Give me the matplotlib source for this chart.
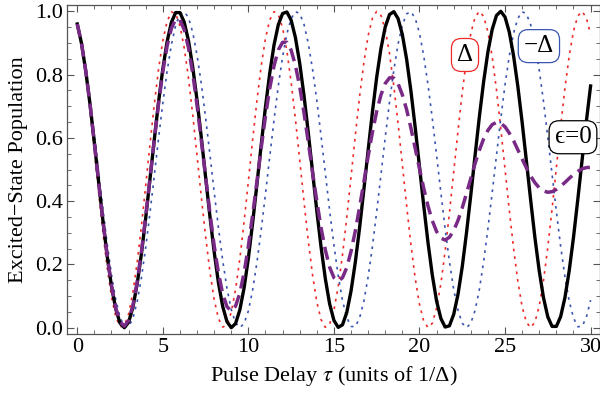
import matplotlib
matplotlib.use("Agg")
import matplotlib.pyplot as plt
import numpy as np
from matplotlib.ticker import MultipleLocator

plt.rcParams["font.family"] = ["Liberation Serif", "DejaVu Serif"]
plt.rcParams["mathtext.fontset"] = "stix"

# sample grid, 0 .. 30 in steps of 0.25 (one row below = one unit of tau)
tau = np.arange(121) * 0.25

# epsilon = 0
pop_zero = [0.960, 0.898, 0.810, 0.704,
            0.584, 0.460, 0.338, 0.226,
            0.131, 0.059, 0.014, 0.000,
            0.017, 0.064, 0.138, 0.234,
            0.347, 0.470, 0.594, 0.713,
            0.818, 0.904, 0.965, 0.996,
            0.996, 0.966, 0.907, 0.823,
            0.719, 0.601, 0.476, 0.353,
            0.240, 0.142, 0.067, 0.019,
            0.000, 0.013, 0.056, 0.126,
            0.220, 0.332, 0.453, 0.578,
            0.698, 0.805, 0.894, 0.958,
            0.993, 0.998, 0.972, 0.917,
            0.836, 0.734, 0.617, 0.493,
            0.369, 0.254, 0.154, 0.075,
            0.023, 0.001, 0.009, 0.048,
            0.116, 0.207, 0.316, 0.437,
            0.561, 0.682, 0.792, 0.883,
            0.951, 0.990, 0.999, 0.977,
            0.926, 0.848, 0.748, 0.633,
            0.509, 0.385, 0.268, 0.166,
            0.084, 0.029, 0.002, 0.006,
            0.042, 0.105, 0.193, 0.301,
            0.420, 0.545, 0.667, 0.778,
            0.872, 0.943, 0.987, 1.000,
            0.982, 0.934, 0.859, 0.762,
            0.649, 0.526, 0.402, 0.283,
            0.179, 0.094, 0.034, 0.004,
            0.004, 0.035, 0.095, 0.180,
            0.285, 0.404, 0.528, 0.651,
            0.764]

# epsilon = +Delta
pop_plus = [0.960, 0.894, 0.800, 0.686,
            0.558, 0.427, 0.301, 0.189,
            0.098, 0.034, 0.003, 0.006,
            0.043, 0.111, 0.206, 0.321,
            0.449, 0.580, 0.705, 0.817,
            0.907, 0.968, 0.998, 0.993,
            0.954, 0.885, 0.789, 0.672,
            0.544, 0.413, 0.289, 0.178,
            0.089, 0.029, 0.002, 0.008,
            0.049, 0.120, 0.217, 0.335,
            0.463, 0.594, 0.718, 0.827,
            0.915, 0.973, 0.999, 0.990,
            0.948, 0.875, 0.776, 0.659,
            0.530, 0.399, 0.275, 0.167,
            0.081, 0.025, 0.001, 0.011,
            0.055, 0.130, 0.230, 0.348,
            0.477, 0.608, 0.731, 0.838,
            0.923, 0.978, 1.000, 0.987,
            0.942, 0.866, 0.764, 0.645,
            0.515, 0.385, 0.262, 0.156,
            0.074, 0.020, 0.000, 0.014,
            0.062, 0.139, 0.242, 0.362,
            0.492, 0.622, 0.744, 0.849,
            0.930, 0.982, 1.000, 0.984,
            0.935, 0.856, 0.752, 0.631,
            0.501, 0.371, 0.250, 0.146,
            0.066, 0.017, 0.000, 0.018,
            0.069, 0.150, 0.254, 0.376,
            0.506, 0.636, 0.757, 0.859,
            0.937, 0.985, 1.000, 0.980,
            0.927]

# epsilon = -Delta
pop_minus = [0.960, 0.901, 0.820, 0.721,
             0.609, 0.492, 0.374, 0.264,
             0.167, 0.089, 0.033, 0.004,
             0.003, 0.029, 0.082, 0.158,
             0.254, 0.363, 0.480, 0.598,
             0.710, 0.811, 0.894, 0.956,
             0.991, 0.999, 0.980, 0.933,
             0.862, 0.771, 0.664, 0.549,
             0.430, 0.316, 0.212, 0.124,
             0.057, 0.015, 0.000, 0.013,
             0.053, 0.119, 0.206, 0.309,
             0.423, 0.541, 0.657, 0.765,
             0.856, 0.929, 0.977, 0.999,
             0.993, 0.959, 0.899, 0.817,
             0.718, 0.605, 0.488, 0.370,
             0.261, 0.164, 0.086, 0.032,
             0.004, 0.003, 0.031, 0.084,
             0.161, 0.257, 0.367, 0.484,
             0.602, 0.714, 0.814, 0.897,
             0.957, 0.992, 0.999, 0.978,
             0.931, 0.859, 0.767, 0.661,
             0.545, 0.427, 0.312, 0.209,
             0.121, 0.055, 0.014, 0.000,
             0.014, 0.055, 0.121, 0.209,
             0.313, 0.427, 0.545, 0.661,
             0.768, 0.859, 0.931, 0.978,
             0.999, 0.992, 0.957, 0.897,
             0.814, 0.714, 0.602, 0.484,
             0.367, 0.257, 0.161, 0.084,
             0.031, 0.003, 0.004, 0.032,
             0.087]

# averaged over +/- Delta
pop_avg = [0.960, 0.898, 0.810, 0.704,
           0.584, 0.460, 0.338, 0.227,
           0.133, 0.062, 0.018, 0.005,
           0.023, 0.070, 0.144, 0.240,
           0.352, 0.472, 0.593, 0.708,
           0.809, 0.890, 0.946, 0.975,
           0.973, 0.942, 0.885, 0.803,
           0.703, 0.592, 0.477, 0.364,
           0.260, 0.173, 0.107, 0.066,
           0.053, 0.068, 0.109, 0.174,
           0.258, 0.357, 0.462, 0.568,
           0.669, 0.757, 0.828, 0.878,
           0.902, 0.902, 0.877, 0.829,
           0.762, 0.679, 0.587, 0.492,
           0.400, 0.315, 0.245, 0.191,
           0.158, 0.147, 0.158, 0.190,
           0.241, 0.306, 0.381, 0.461,
           0.542, 0.618, 0.684, 0.736,
           0.772, 0.790, 0.789, 0.771,
           0.736, 0.689, 0.631, 0.567,
           0.503, 0.440, 0.384, 0.338,
           0.304, 0.283, 0.277, 0.286,
           0.307, 0.339, 0.379, 0.425,
           0.472, 0.519, 0.561, 0.597,
           0.624, 0.642, 0.649, 0.646,
           0.635, 0.615, 0.591, 0.562,
           0.533, 0.505, 0.479, 0.458,
           0.442, 0.432, 0.428, 0.430,
           0.437, 0.447, 0.459, 0.472,
           0.484, 0.494, 0.502, 0.506,
           0.507]

fig = plt.figure(figsize=(6, 3.99), dpi=100)
ax = fig.add_axes([67/600, 65/399, 533/600, 329/399])

ax.plot(tau, pop_plus, color="#ee2a2a", lw=1.2, ls=(0, (1.6, 3.0)))
ax.plot(tau, pop_minus, color="#3a55b0", lw=1.2, ls=(0, (1.6, 3.0)))
ax.plot(tau, pop_zero, color="black", lw=2.4)
ax.plot(tau, pop_avg, color="#782a86", lw=2.5, ls=(0, (3.8, 2.0)))

ax.set_xlim(-0.6, 30.55)
ax.set_ylim(-0.02, 1.02)
ax.xaxis.set_major_locator(MultipleLocator(5))
ax.xaxis.set_minor_locator(MultipleLocator(1))
ax.yaxis.set_major_locator(MultipleLocator(0.2))
ax.yaxis.set_minor_locator(MultipleLocator(0.05))
ax.yaxis.set_major_formatter(plt.FuncFormatter(lambda v, p: "%.1f" % v))
ax.tick_params(which="both", direction="in", top=True, right=True, color="#555555",
               labelsize=16, pad=3)
ax.tick_params(which="major", length=5, width=0.8)
ax.tick_params(which="minor", length=3, width=0.6)
for s in ax.spines.values():
    s.set_color("#555555")
    s.set_linewidth(0.9)

ax.set_xlabel(r"Pulse Delay $\tau$ (units of 1/Δ)", fontsize=16, labelpad=5)
ax.set_ylabel("Excited\u2212State Population", fontsize=16, labelpad=5)

box = dict(boxstyle="round,pad=0.22,rounding_size=0.4", fc="white", lw=0.9)
ax.text(22.66, 0.862, "Δ", color="black", fontsize=18, ha="center", va="center",
        bbox=dict(box, ec="#ee2a2a"))
ax.text(26.98, 0.89, "\u2212Δ", color="black", fontsize=18, ha="center", va="center",
        bbox=dict(box, ec="#3a55b0"))
ax.text(28.97, 0.602, "\u03f5=0", color="black", fontsize=18, ha="center", va="center",
        bbox=dict(box, ec="black"))

fig.savefig("out.png", dpi=100)
